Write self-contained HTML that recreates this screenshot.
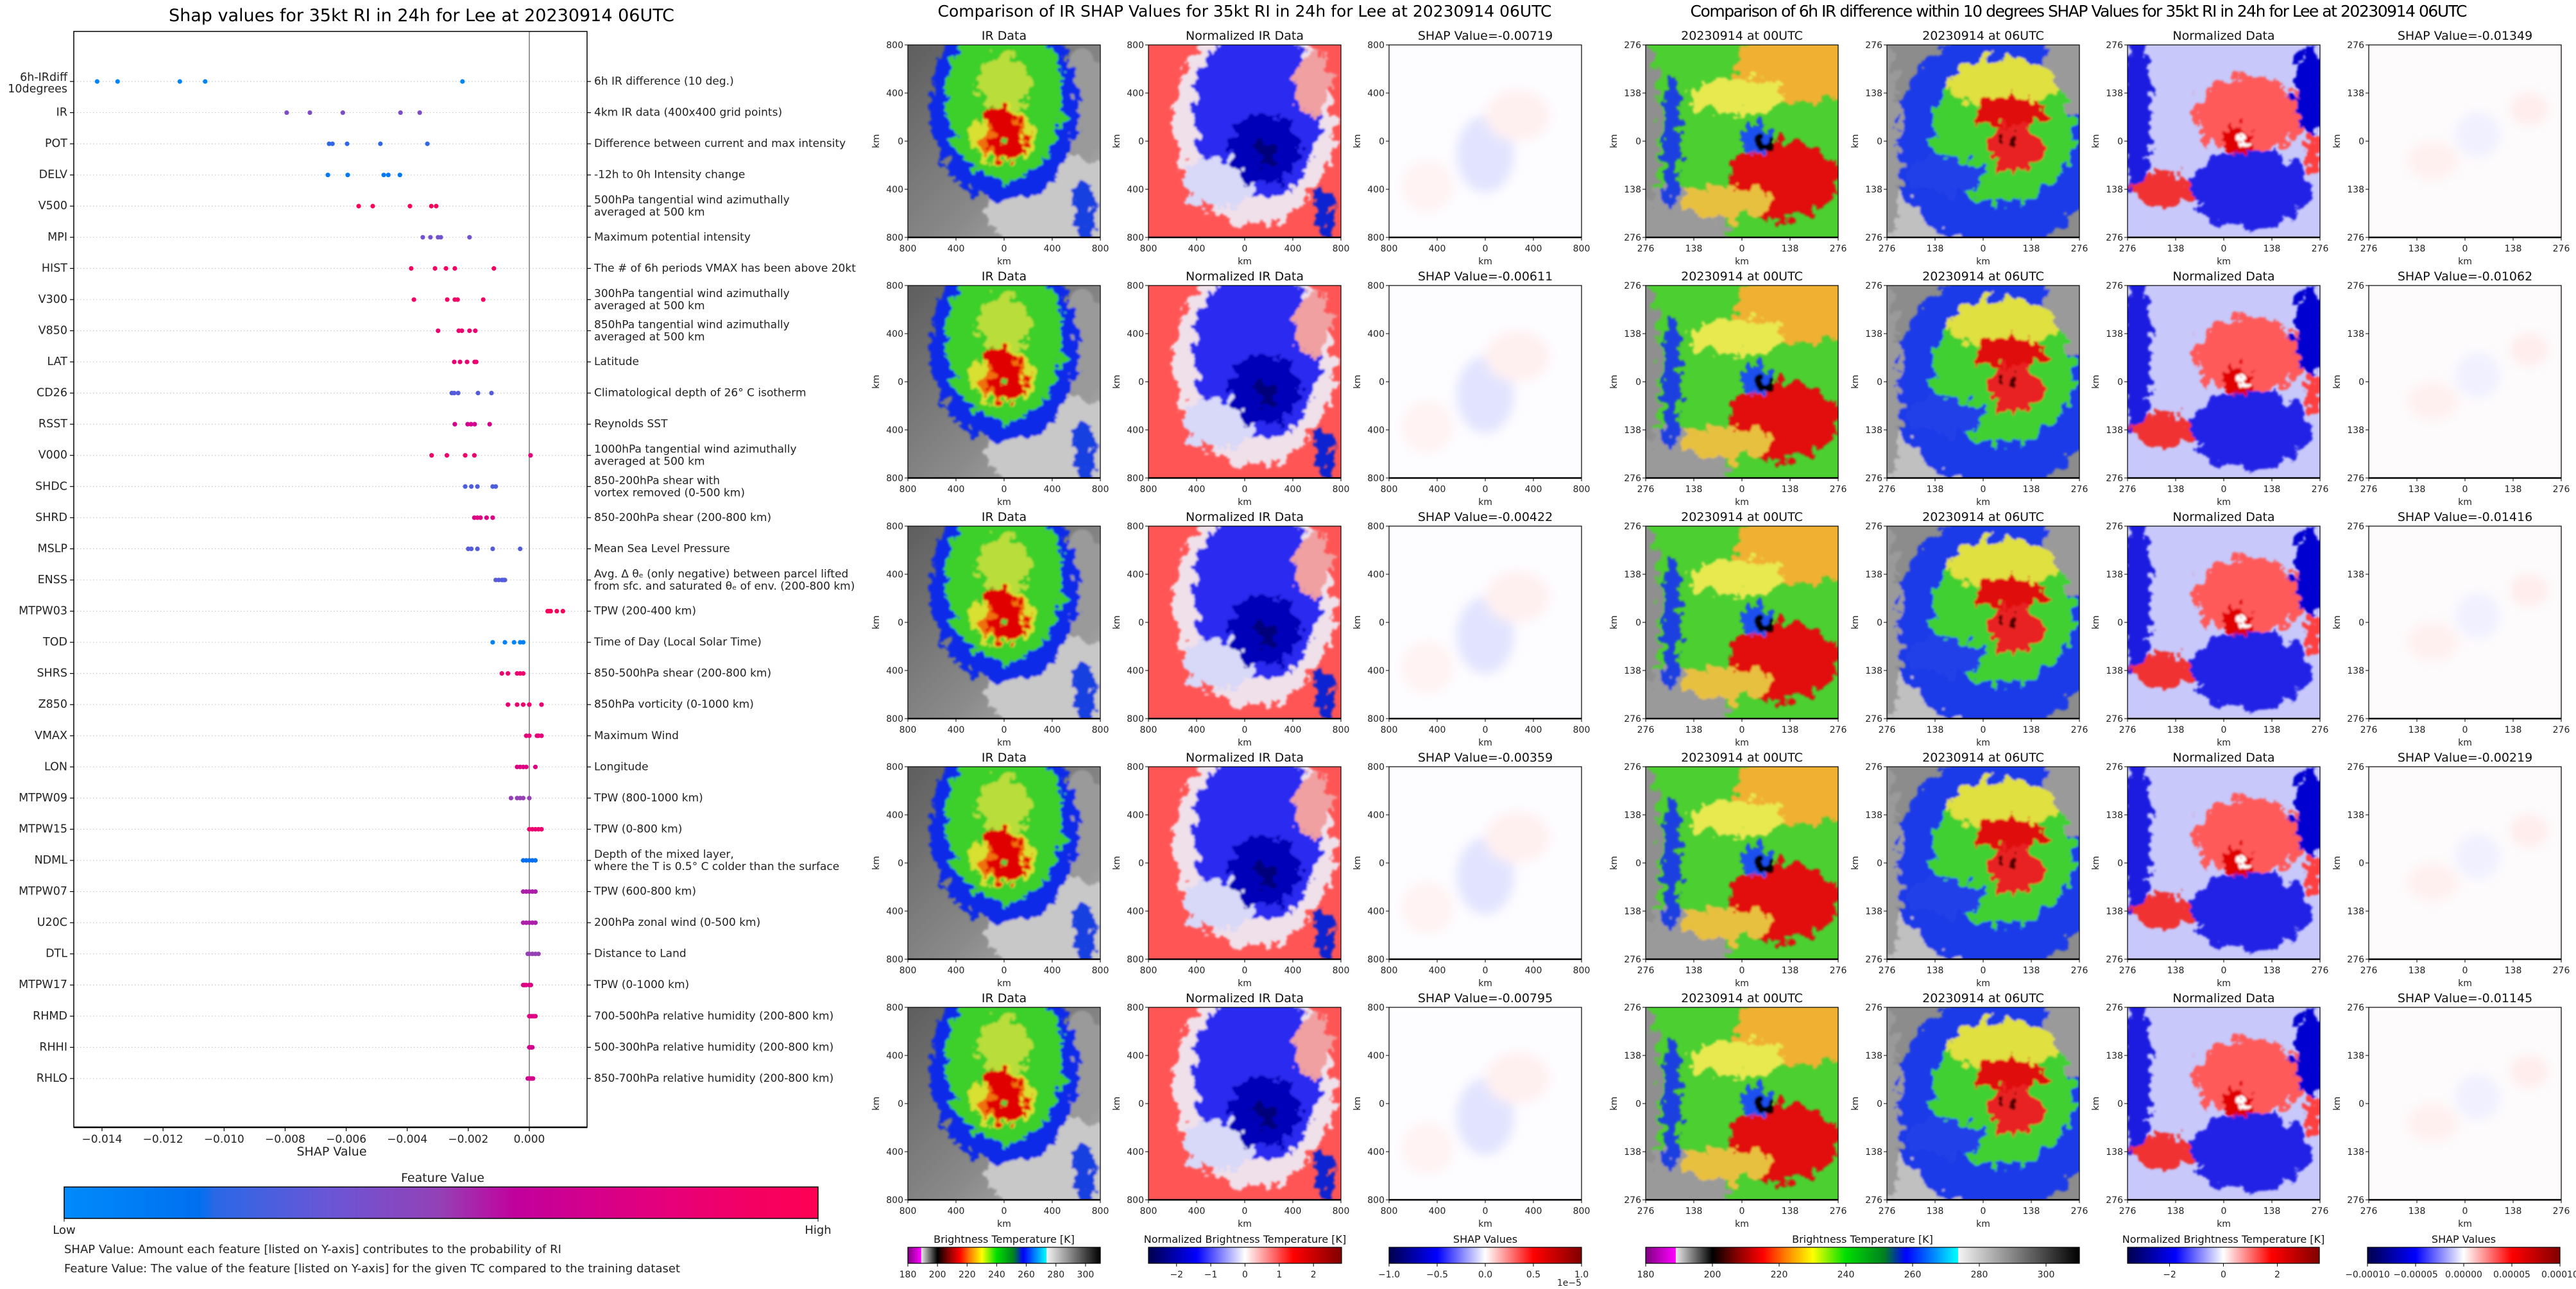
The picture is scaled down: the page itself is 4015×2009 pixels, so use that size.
<!DOCTYPE html>
<html><head><meta charset="utf-8"><title>SHAP values for Lee</title>
<style>
html,body{margin:0;padding:0;background:#fff;}
svg{display:block;font-family:"DejaVu Sans","Liberation Sans",sans-serif;}
</style></head>
<body>
<svg id="fig" xmlns="http://www.w3.org/2000/svg" width="4015" height="2009" viewBox="0 0 4015 2009">
<defs>
<filter id="rough" x="-10%" y="-10%" width="120%" height="120%">
<feTurbulence type="fractalNoise" baseFrequency="0.055" numOctaves="4" seed="7" result="n"/>
<feDisplacementMap in="SourceGraphic" in2="n" scale="40" xChannelSelector="R" yChannelSelector="G"/>
<feGaussianBlur stdDeviation="1.5"/>
</filter>
<filter id="soft"><feGaussianBlur stdDeviation="8"/></filter>
<linearGradient id="grayBg" x1="0" y1="0" x2="1" y2="1"><stop offset="0" stop-color="#5e5e5e"/><stop offset="0.6" stop-color="#8a8a8a"/><stop offset="1" stop-color="#b8b8b8"/></linearGradient>
<clipPath id="pc"><rect x="0" y="0" width="300" height="300"/></clipPath>

<symbol id="ir800" viewBox="0 0 300 300">
<rect width="300" height="300" fill="url(#grayBg)"/>
<g clip-path="url(#pc)" filter="url(#rough)">
<ellipse cx="230" cy="250" rx="110" ry="80" fill="#c8c8c8"/>
<ellipse cx="270" cy="90" rx="40" ry="80" fill="#9a9a9a"/>
<ellipse cx="150" cy="95" rx="115" ry="150" fill="#0a2ce8"/>
<ellipse cx="275" cy="260" rx="16" ry="50" fill="#1840e0"/>
<ellipse cx="150" cy="85" rx="92" ry="125" fill="#3ccf2a"/>
<ellipse cx="150" cy="60" rx="42" ry="45" fill="#d8e040" opacity="0.8"/>
<ellipse cx="150" cy="140" rx="48" ry="45" fill="#d8e030"/>
<ellipse cx="150" cy="145" rx="36" ry="38" fill="#f07010"/>
<ellipse cx="155" cy="150" rx="28" ry="32" fill="#e00000"/>
<ellipse cx="140" cy="112" rx="26" ry="14" fill="#e00000"/>
<circle cx="150" cy="152" r="6" fill="#50d040"/>
</g>
</symbol>

<symbol id="norm800" viewBox="0 0 300 300">
<rect width="300" height="300" fill="#ff5555"/>
<g clip-path="url(#pc)" filter="url(#rough)">
<ellipse cx="165" cy="120" rx="125" ry="160" fill="#f0e0ea"/>
<ellipse cx="170" cy="105" rx="100" ry="135" fill="#2a2af0"/>
<ellipse cx="110" cy="215" rx="55" ry="40" fill="#d8d8f8"/>
<ellipse cx="180" cy="160" rx="55" ry="55" fill="#0000b8"/>
<circle cx="185" cy="168" r="18" fill="#00007a"/>
<ellipse cx="275" cy="260" rx="14" ry="40" fill="#1020d0"/>
<ellipse cx="255" cy="60" rx="28" ry="50" fill="#f0a0a0"/>
</g>
</symbol>

<symbol id="shap800" viewBox="0 0 300 300">
<rect width="300" height="300" fill="#fdfcff"/>
<g filter="url(#soft)">
<ellipse cx="150" cy="170" rx="45" ry="60" fill="#e2e4ff"/>
<ellipse cx="200" cy="110" rx="50" ry="40" fill="#fff0f0"/>
<ellipse cx="60" cy="220" rx="40" ry="40" fill="#fff3f3"/>
</g>
</symbol>

<symbol id="a276" viewBox="0 0 300 300">
<rect width="300" height="300" fill="#4ccf30"/>
<g clip-path="url(#pc)" filter="url(#rough)">
<ellipse cx="10" cy="300" rx="120" ry="80" fill="#9a9a9a"/>
<ellipse cx="0" cy="120" rx="22" ry="130" fill="#8f8f8f"/>
<ellipse cx="40" cy="150" rx="14" ry="110" fill="#1a40e0"/>
<ellipse cx="240" cy="35" rx="100" ry="55" fill="#f0b030"/>
<ellipse cx="140" cy="80" rx="75" ry="28" fill="#e8e850"/>
<ellipse cx="215" cy="210" rx="85" ry="62" fill="#e21010"/>
<ellipse cx="130" cy="245" rx="70" ry="25" fill="#e8c040"/>
<circle cx="172" cy="148" r="24" fill="#1a50f0"/>
<circle cx="188" cy="155" r="14" fill="#000"/>
</g>
</symbol>

<symbol id="b276" viewBox="0 0 300 300">
<rect width="300" height="300" fill="#8c8c8c"/>
<g clip-path="url(#pc)" filter="url(#rough)">
<ellipse cx="60" cy="270" rx="80" ry="50" fill="#c0c0c0"/>
<ellipse cx="170" cy="150" rx="160" ry="170" fill="#1a3ae8"/>
<ellipse cx="0" cy="150" rx="20" ry="160" fill="#9a9a9a"/>
<ellipse cx="300" cy="30" rx="55" ry="80" fill="#9a9a9a"/>
<ellipse cx="180" cy="135" rx="110" ry="115" fill="#40d030"/>
<ellipse cx="180" cy="60" rx="85" ry="40" fill="#e0e040"/>
<ellipse cx="190" cy="105" rx="55" ry="26" fill="#e01010"/>
<ellipse cx="200" cy="160" rx="42" ry="38" fill="#e82020"/>
<circle cx="195" cy="150" r="11" fill="#500000"/>
<ellipse cx="90" cy="205" rx="60" ry="30" fill="#2040e8"/>
</g>
</symbol>

<symbol id="c276" viewBox="0 0 300 300">
<rect width="300" height="300" fill="#c8c8fa"/>
<g clip-path="url(#pc)" filter="url(#rough)">
<ellipse cx="190" cy="110" rx="85" ry="60" fill="#ff5a5a"/>
<ellipse cx="190" cy="225" rx="95" ry="60" fill="#2424e6"/>
<ellipse cx="285" cy="70" rx="25" ry="70" fill="#0000d0"/>
<ellipse cx="15" cy="110" rx="22" ry="120" fill="#1a1ae0"/>
<ellipse cx="55" cy="225" rx="45" ry="28" fill="#f03030"/>
<ellipse cx="290" cy="170" rx="14" ry="30" fill="#ff4040"/>
<circle cx="170" cy="150" r="22" fill="#e00000"/>
<circle cx="180" cy="148" r="8" fill="#ffffff"/>
</g>
</symbol>

<symbol id="d276" viewBox="0 0 300 300">
<rect width="300" height="300" fill="#fdfbfc"/>
<g filter="url(#soft)">
<ellipse cx="100" cy="180" rx="40" ry="30" fill="#fff0f0"/>
<ellipse cx="250" cy="100" rx="30" ry="25" fill="#ffecec"/>
<ellipse cx="170" cy="140" rx="35" ry="35" fill="#f0f0ff"/>
</g>
</symbol>

<linearGradient id="cmShapFeat" x1="0" x2="1" y1="0" y2="0">
<stop offset="0" stop-color="#008bfb"/><stop offset="0.18" stop-color="#0070f0"/><stop offset="0.2" stop-color="#2a68e6"/><stop offset="0.35" stop-color="#6a56d6"/><stop offset="0.5" stop-color="#9540b5"/><stop offset="0.6" stop-color="#c2009c"/><stop offset="0.8" stop-color="#e6007a"/><stop offset="1" stop-color="#ff0052"/>
</linearGradient>
<linearGradient id="cmIR" x1="0" x2="1" y1="0" y2="0">
<stop offset="0" stop-color="#800080"/><stop offset="0.069" stop-color="#ff00ff"/><stop offset="0.0695" stop-color="#e8e8e8"/><stop offset="0.154" stop-color="#000"/><stop offset="0.208" stop-color="#800000"/><stop offset="0.27" stop-color="#ff0000"/><stop offset="0.323" stop-color="#ff8000"/><stop offset="0.385" stop-color="#ffff00"/><stop offset="0.46" stop-color="#00e000"/><stop offset="0.55" stop-color="#008020"/><stop offset="0.6" stop-color="#0000ff"/><stop offset="0.72" stop-color="#00ffff"/><stop offset="0.7205" stop-color="#f4f4f4"/><stop offset="1" stop-color="#000"/>
</linearGradient>
<linearGradient id="cmSeis" x1="0" x2="1" y1="0" y2="0">
<stop offset="0" stop-color="#00004c"/><stop offset="0.25" stop-color="#0000ff"/><stop offset="0.5" stop-color="#ffffff"/><stop offset="0.75" stop-color="#ff0000"/><stop offset="1" stop-color="#800000"/>
</linearGradient>
</defs>
<g id="root"></g>
</svg>
<script>
// ---------- data ----------
const features = ["6h-IRdiff|10degrees","IR","POT","DELV","V500","MPI","HIST","V300","V850","LAT","CD26","RSST","V000","SHDC","SHRD","MSLP","ENSS","MTPW03","TOD","SHRS","Z850","VMAX","LON","MTPW09","MTPW15","NDML","MTPW07","U20C","DTL","MTPW17","RHMD","RHHI","RHLO"];
const descriptions = ["6h IR difference (10 deg.)","4km IR data (400x400 grid points)","Difference between current and max intensity","-12h to 0h Intensity change","500hPa tangential wind azimuthally|averaged at 500 km","Maximum potential intensity","The # of 6h periods VMAX has been above 20kt","300hPa tangential wind azimuthally|averaged at 500 km","850hPa tangential wind azimuthally|averaged at 500 km","Latitude","Climatological depth of 26° C isotherm","Reynolds SST","1000hPa tangential wind azimuthally|averaged at 500 km","850-200hPa shear with|vortex removed (0-500 km)","850-200hPa shear (200-800 km)","Mean Sea Level Pressure","Avg. Δ θₑ (only negative) between parcel lifted|from sfc. and saturated θₑ of env. (200-800 km)","TPW (200-400 km)","Time of Day (Local Solar Time)","850-500hPa shear (200-800 km)","850hPa vorticity (0-1000 km)","Maximum Wind","Longitude","TPW (800-1000 km)","TPW (0-800 km)","Depth of the mixed layer,|where the T is 0.5° C colder than the surface","TPW (600-800 km)","200hPa zonal wind (0-500 km)","Distance to Land","TPW (0-1000 km)","700-500hPa relative humidity (200-800 km)","500-300hPa relative humidity (200-800 km)","850-700hPa relative humidity (200-800 km)"];
const shapValues = [
[-0.01416,-0.01349,-0.01145,-0.01062,-0.00219],
[-0.00795,-0.00719,-0.00611,-0.00422,-0.00359],
[-0.00656,-0.00645,-0.00597,-0.00488,-0.00334],
[-0.0066,-0.00595,-0.00477,-0.00462,-0.00424],
[-0.00559,-0.00513,-0.00391,-0.00321,-0.00305],
[-0.00349,-0.00324,-0.00299,-0.0029,-0.00196],
[-0.00387,-0.00309,-0.00273,-0.00244,-0.00116],
[-0.00378,-0.00269,-0.00244,-0.00235,-0.00151],
[-0.00299,-0.00231,-0.00221,-0.00196,-0.00177],
[-0.00246,-0.00227,-0.00204,-0.00179,-0.00174],
[-0.00254,-0.00246,-0.00233,-0.00168,-0.00124],
[-0.00244,-0.00202,-0.00191,-0.00179,-0.0013],
[-0.0032,-0.0027,-0.0021,-0.0018,0.00004],
[-0.0021,-0.0019,-0.0017,-0.0012,-0.0011],
[-0.0018,-0.0017,-0.0016,-0.0014,-0.0012],
[-0.002,-0.0019,-0.0017,-0.0012,-0.0003],
[-0.0011,-0.001,-0.0009,-0.0008,-0.00085],
[0.0006,0.0007,0.0009,0.0011,0.00065],
[-0.0012,-0.0008,-0.0005,-0.0003,-0.0002],
[-0.0009,-0.0007,-0.0004,-0.0003,-0.0002],
[-0.0007,-0.0004,-0.0002,0.0,0.0004],
[-0.0001,0.0,0.00025,0.0003,0.0004],
[-0.0004,-0.0003,-0.0002,-0.0001,0.0002],
[-0.0006,-0.0004,-0.0003,-0.0002,0.0],
[0.0,0.0001,0.0002,0.0003,0.0004],
[-0.0002,-0.0001,0.0,0.0001,0.0002],
[-0.0002,-0.0001,0.0,0.0001,0.0002],
[-0.0002,-0.0001,0.0,0.0001,0.0002],
[-0.00005,0.0,0.0001,0.0002,0.0003],
[-0.0002,-0.00015,-0.0001,0.0,0.00005],
[0.0,0.00005,0.0001,0.00015,0.0002],
[0.0,0.00003,0.00006,0.00008,0.0001],
[-0.00005,0.0,0.00005,0.0001,0.00012]
];
const featureValues = [
[0.05,0.05,0.05,0.05,0.05],[0.42,0.42,0.42,0.42,0.42],[0.22,0.22,0.22,0.22,0.22],[0.12,0.12,0.12,0.12,0.12],
[0.95,0.95,0.95,0.95,0.95],[0.38,0.38,0.38,0.38,0.38],[0.92,0.92,0.92,0.92,0.92],[0.9,0.9,0.9,0.9,0.9],
[0.86,0.86,0.86,0.86,0.86],[0.85,0.85,0.85,0.85,0.85],[0.3,0.3,0.3,0.3,0.3],[0.7,0.7,0.7,0.7,0.7],
[0.88,0.88,0.88,0.88,0.8],[0.28,0.28,0.28,0.28,0.28],[0.75,0.75,0.75,0.75,0.75],[0.3,0.3,0.3,0.3,0.3],
[0.3,0.3,0.3,0.3,0.3],[0.95,0.95,0.95,0.95,0.95],[0.06,0.06,0.06,0.06,0.06],[0.85,0.85,0.85,0.85,0.85],
[0.85,0.85,0.85,0.85,0.85],[0.8,0.8,0.8,0.8,0.8],[0.75,0.75,0.75,0.75,0.75],[0.5,0.5,0.5,0.5,0.5],
[0.85,0.85,0.85,0.85,0.85],[0.18,0.18,0.18,0.18,0.18],[0.55,0.55,0.55,0.55,0.55],[0.55,0.55,0.55,0.55,0.55],
[0.5,0.5,0.5,0.5,0.5],[0.75,0.75,0.75,0.75,0.75],[0.75,0.75,0.75,0.75,0.75],[0.7,0.7,0.7,0.7,0.7],[0.7,0.7,0.7,0.7,0.7]
];
const xTickValues = [-0.014,-0.012,-0.010,-0.008,-0.006,-0.004,-0.002,0.000];
const irShapValues = [-0.00719,-0.00611,-0.00422,-0.00359,-0.00795];
const diffShapValues = [-0.01349,-0.01062,-0.01416,-0.00219,-0.01145];
const kmTicks800 = ["800","400","0","400","800"];
const kmTicks276 = ["276","138","0","138","276"];
const irCbTicks = [180,200,220,240,260,280,300];
const normCbTicks = [-2,-1,0,1,2];
const shapCbTicks = [-1.0,-0.5,0.0,0.5,1.0];
const normCbTicksR = [-2,0,2];
const shapCbTicksR = [-0.0001,-0.00005,0,0.00005,0.0001];

// ---------- helpers ----------
const NS = "http://www.w3.org/2000/svg";
const root = document.getElementById('root');
function mk(tag, attrs, parent){
  const e = document.createElementNS(NS, tag);
  for (const k in attrs) e.setAttribute(k, attrs[k]);
  (parent || root).appendChild(e);
  return e;
}
function txt(s, attrs, parent){ const e = mk('text', attrs, parent); e.textContent = s; return e; }
function fmtMinus(s){ return s.replace('-', '\u2212'); }

// ---------- left beeswarm chart ----------
const AX = {l:115, r:915, t:49, b:1757};
const X0 = 825, XPER = (825-159)/0.014;
function xScale(v){ return X0 + v*XPER; }
const ROW0 = 127, ROWH = 48.56;
function yScale(i){ return ROW0 + i*ROWH; }
const featStops = [[0,[0,139,251]],[0.18,[0,112,240]],[0.2,[42,104,230]],[0.35,[106,86,214]],[0.5,[149,64,181]],[0.6,[194,0,156]],[0.8,[230,0,122]],[1,[255,0,82]]];
function featColor(f){
  for (let i=1;i<featStops.length;i++){
    if (f<=featStops[i][0]){
      const a=featStops[i-1], b=featStops[i], t=(f-a[0])/(b[0]-a[0]);
      const c=a[1].map((v,k)=>Math.round(v+(b[1][k]-v)*t));
      return 'rgb('+c.join(',')+')';
    }
  }
  return 'rgb(255,0,82)';
}

const chart = mk('g', {});



const t1 = txt('Shap values for 35kt RI in 24h for Lee at 20230914 06UTC', {x:657, y:33, 'text-anchor':'middle', 'font-size':27, fill:'#000'}, chart);



features.forEach((f,i)=>{
  const y = yScale(i);
  const gl = mk('line', {x1:AX.l, x2:AX.r, y1:y, y2:y, stroke:'#c8c8c8', 'stroke-width':1.2, 'stroke-dasharray':'1.5,3.5'}, chart);
  
  
  mk('line', {x1:AX.l-6, x2:AX.l, y1:y, y2:y, stroke:'#000', 'stroke-width':1.2}, chart);
  mk('line', {x1:AX.r, x2:AX.r+6, y1:y, y2:y, stroke:'#000', 'stroke-width':1.2}, chart);
  const parts = f.split('|');
  parts.forEach((p,k)=>{
    const yy = parts.length>1 ? y-6+k*18 : y;
    const lab = txt(p, {x:AX.l-10, y:yy, 'text-anchor':'end', 'dominant-baseline':'central', 'font-size':17.5, fill:'#222'}, chart);
    
    
  });
  const dparts = descriptions[i].split('|');
  dparts.forEach((p,k)=>{
    const yy = dparts.length>1 ? y-9+k*19 : y;
    const d = txt(p, {x:AX.r+11, y:yy, 'text-anchor':'start', 'dominant-baseline':'central', 'font-size':17, fill:'#222'}, chart);
    
    
  });
});
const zl = mk('line', {x1:X0, x2:X0, y1:AX.t, y2:AX.b, stroke:'#999', 'stroke-width':2}, chart);



shapValues.forEach((row,i)=>{
  row.forEach((v,j)=>{
    const c = mk('circle', {cx:xScale(v), cy:yScale(i), r:3.6, fill:featColor(featureValues[i][j])}, chart);
    
    
  });
});
const frame = mk('rect', {x:AX.l, y:AX.t, width:AX.r-AX.l, height:AX.b-AX.t, fill:'none', stroke:'#000', 'stroke-width':1.5}, chart);


mk('line', {x1:AX.l, x2:AX.r, y1:AX.b, y2:AX.b, stroke:'#000', 'stroke-width':2.5}, chart);

xTickValues.forEach(v=>{
  const x = xScale(v);
  mk('line', {x1:x, x2:x, y1:AX.b, y2:AX.b+6, stroke:'#000', 'stroke-width':1.2}, chart);
  const tl = txt(fmtMinus(v.toFixed(3)), {x:x, y:AX.b+24, 'text-anchor':'middle', 'font-size':17, fill:'#222'}, chart);
  
  
});
const xt = txt('SHAP Value', {x:517, y:1801, 'text-anchor':'middle', 'font-size':19, fill:'#222'}, chart);



const cbT = txt('Feature Value', {x:690, y:1842, 'text-anchor':'middle', 'font-size':19, fill:'#222'}, chart);


const cb = mk('rect', {x:100, y:1850, width:1175, height:49, fill:'url(#cmShapFeat)', stroke:'#000', 'stroke-width':1.5}, chart);


mk('line', {x1:100,x2:100,y1:1899,y2:1904,stroke:'#000'}, chart);
mk('line', {x1:1275,x2:1275,y1:1899,y2:1904,stroke:'#000'}, chart);
const lo = txt('Low', {x:100, y:1923, 'text-anchor':'middle', 'font-size':18, fill:'#222'}, chart);


const hi = txt('High', {x:1275, y:1923, 'text-anchor':'middle', 'font-size':18, fill:'#222'}, chart);


const n1 = txt('SHAP Value: Amount each feature [listed on Y-axis] contributes to the probability of RI', {x:100, y:1953, 'font-size':18, fill:'#222'}, chart);


const n2 = txt('Feature Value: The value of the feature [listed on Y-axis] for the given TC compared to the training dataset', {x:100, y:1983, 'font-size':18, fill:'#222'}, chart);



// ---------- image panels ----------
const rowsY = [70,445,820,1195,1570];
const PS = 300;
function panel(x, y, sym, title, ticks, nm){
  const g = mk('g', {});
  
  
  mk('use', {href:'#'+sym, x:x, y:y, width:PS, height:PS}, g);
  mk('rect', {x:x, y:y, width:PS, height:PS, fill:'none', stroke:'#000', 'stroke-width':1.2}, g);
  mk('line', {x1:x, x2:x+PS, y1:y+PS, y2:y+PS, stroke:'#000', 'stroke-width':2.5}, g);
  const tt = txt(title, {x:x+PS/2, y:y-8, 'text-anchor':'middle', 'font-size':19, fill:'#111'}, g);
  
  
  ticks.forEach((t,k)=>{
    const p = k*PS/4;
    mk('line', {x1:x-5, x2:x, y1:y+p, y2:y+p, stroke:'#000'}, g);
    mk('line', {x1:x+p, x2:x+p, y1:y+PS, y2:y+PS+5, stroke:'#000'}, g);
    const yl = txt(t, {x:x-7, y:y+p+5, 'text-anchor':'end', 'font-size':14, fill:'#222'}, g);
    
    
    const xl = txt(t, {x:x+p, y:y+PS+22, 'text-anchor':'middle', 'font-size':14, fill:'#222'}, g);
    
    
  });
  const xk = txt('km', {x:x+PS/2, y:y+PS+42, 'text-anchor':'middle', 'font-size':14, fill:'#222'}, g);
  
  
  const yk = txt('km', {x:0, y:0, 'text-anchor':'middle', 'font-size':14, fill:'#222', transform:'translate('+(x-45)+','+(y+PS/2)+') rotate(-90)'}, g);
  
  
}
const midX = [1415,1790,2165];
const rightX = [2565,2941,3316,3692];
const mt = txt('Comparison of IR SHAP Values for 35kt RI in 24h for Lee at 20230914 06UTC', {x:1940, y:26, 'text-anchor':'middle', 'font-size':25, fill:'#000', textLength:957}, root);


const rt = txt('Comparison of 6h IR difference within 10 degrees SHAP Values for 35kt RI in 24h for Lee at 20230914 06UTC', {x:3240, y:26, 'text-anchor':'middle', 'font-size':25, fill:'#000', textLength:1211}, root);



rowsY.forEach((y,r)=>{
  panel(midX[0], y, 'ir800', 'IR Data', kmTicks800, 'ir-data-panel');
  panel(midX[1], y, 'norm800', 'Normalized IR Data', kmTicks800, 'normalized-ir-panel');
  panel(midX[2], y, 'shap800', 'SHAP Value='+irShapValues[r].toFixed(5), kmTicks800, 'ir-shap-panel');
  panel(rightX[0], y, 'a276', '20230914 at 00UTC', kmTicks276, 'ir-00utc-panel');
  panel(rightX[1], y, 'b276', '20230914 at 06UTC', kmTicks276, 'ir-06utc-panel');
  panel(rightX[2], y, 'c276', 'Normalized Data', kmTicks276, 'normalized-diff-panel');
  panel(rightX[3], y, 'd276', 'SHAP Value='+diffShapValues[r].toFixed(5), kmTicks276, 'diff-shap-panel');
});

// ---------- colorbars ----------
const CBY = 1944, CBH = 25;
function colorbar(x, w, grad, title, ticks, vmin, vmax, fmt, nm){
  const g = mk('g', {});
  
  
  const tt = txt(title, {x:x+w/2, y:CBY-7, 'text-anchor':'middle', 'font-size':16, fill:'#111'}, g);
  
  
  mk('rect', {x:x, y:CBY, width:w, height:CBH, fill:'url(#'+grad+')', stroke:'#000', 'stroke-width':1.2}, g);
  ticks.forEach(t=>{
    const px = x + (t-vmin)/(vmax-vmin)*w;
    mk('line', {x1:px, x2:px, y1:CBY+CBH, y2:CBY+CBH+5, stroke:'#000'}, g);
    const l = txt(fmtMinus(fmt(t)), {x:px, y:CBY+CBH+22, 'text-anchor':'middle', 'font-size':14, fill:'#222'}, g);
    
    
  });
}
colorbar(1415, 300, 'cmIR', 'Brightness Temperature [K]', irCbTicks, 180, 310, t=>String(t), 'ir-brightness-colorbar');
colorbar(1790, 301, 'cmSeis', 'Normalized Brightness Temperature [K]', normCbTicks, -2.82, 2.82, t=>String(t), 'normalized-ir-colorbar');
colorbar(2165, 300, 'cmSeis', 'SHAP Values', shapCbTicks, -1, 1, t=>t.toFixed(1), 'ir-shap-colorbar');
const ex = txt('1e\u22125', {x:2465, y:2004, 'text-anchor':'end', 'font-size':14, fill:'#222'}, root);


colorbar(2565, 676, 'cmIR', 'Brightness Temperature [K]', irCbTicks, 180, 310, t=>String(t), 'diff-brightness-colorbar');
colorbar(3316, 299, 'cmSeis', 'Normalized Brightness Temperature [K]', normCbTicksR, -3.56, 3.56, t=>String(t), 'normalized-diff-colorbar');
colorbar(3690, 300, 'cmSeis', 'SHAP Values', shapCbTicksR, -0.0001, 0.0001, t=>t.toFixed(5), 'diff-shap-colorbar');
</script>
</body></html>
